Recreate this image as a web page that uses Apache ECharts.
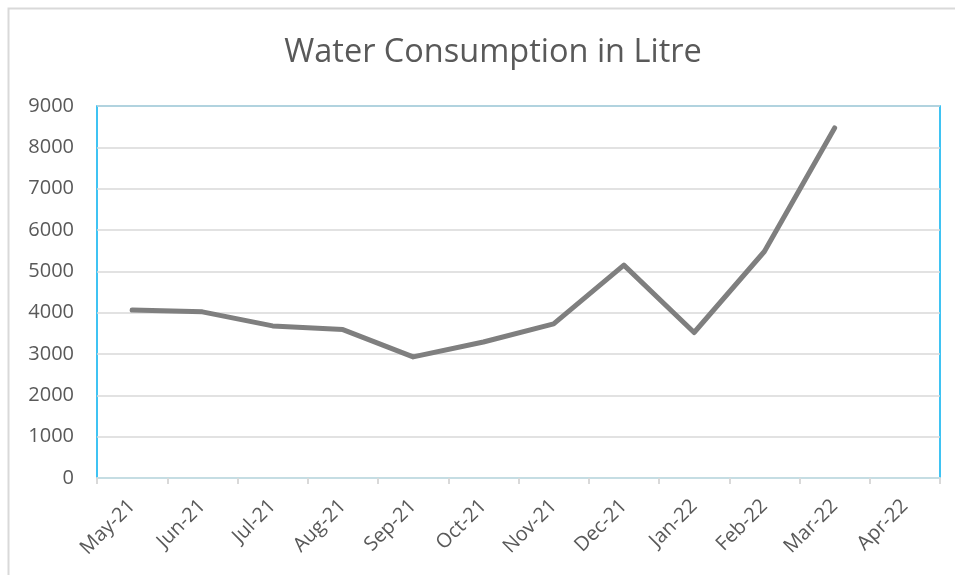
<!DOCTYPE html>
<html>
<head>
<meta charset="utf-8">
<script src="https://cdn.jsdelivr.net/npm/echarts@6/dist/echarts.min.js"></script>
<style>html,body{margin:0;padding:0;background:#fff}#c{width:955px;height:575px}</style>
</head>
<body>
<div id="c"></div>
<script>
var categories = ['May-21','Jun-21','Jul-21','Aug-21','Sep-21','Oct-21','Nov-21','Dec-21','Jan-22','Feb-22','Mar-22','Apr-22'];
var consumption = [4065, 4020, 3680, 3590, 2930, 3290, 3730, 5150, 3520, 5480, 8470, null];
var yTicks = [0, 1000, 2000, 3000, 4000, 5000, 6000, 7000, 8000, 9000];

var chart = echarts.init(document.getElementById('c'));
chart.setOption({
  animation: false,
  backgroundColor: '#fff',
  title: {
    text: 'Water Consumption in Litre',
    left: 488, top: 31, textAlign: 'center',
    textStyle: { fontFamily: 'Open Sans', fontSize: 32.5, fontWeight: 'normal', color: '#595959' }
  },
  graphic: [{
    type: 'rect', shape: { x: 8.5, y: 8.5, width: 970, height: 600 },
    style: { fill: 'none', stroke: '#d9d9d9', lineWidth: 2 }, silent: true
  }],
  grid: { left: 97, right: 15, top: 106, bottom: 97, show: true, borderColor: '#00B0F0', borderWidth: 1.5, backgroundColor: 'transparent' },
  xAxis: {
    type: 'category', data: categories, boundaryGap: true,
    axisLine: { lineStyle: { color: '#c5dde3', width: 2 } },
    axisTick: { show: true, length: 6, lineStyle: { color: '#d9d9d9', width: 2 } },
    axisLabel: { rotate: 45, interval: 0, margin: 25, color: '#595959', fontFamily: 'Open Sans', fontSize: 20 }
  },
  yAxis: {
    type: 'value', min: yTicks[0], max: yTicks[yTicks.length - 1], interval: 1000,
    axisLine: { show: false }, axisTick: { show: false },
    splitLine: { lineStyle: { color: '#d9d9d9', width: 1.5 } },
    axisLabel: { margin: 23, color: '#595959', fontFamily: 'Open Sans', fontSize: 20, formatter: function (v) { return String(v); } }
  },
  series: [{
    type: 'line', data: consumption, symbol: 'none', connectNulls: false,
    lineStyle: { color: '#7f7f7f', width: 5, cap: 'round', join: 'round' }
  }]
});
</script>
</body>
</html>
